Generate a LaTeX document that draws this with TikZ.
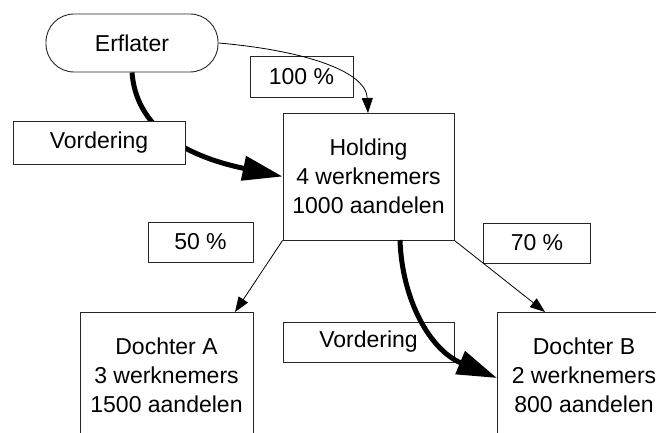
\documentclass[tikz,border=0pt]{standalone}
\usepackage{fontspec}
\setmainfont{Liberation Sans}
\usetikzlibrary{arrows.meta,backgrounds}
\begin{document}
\begin{tikzpicture}[x=1pt,y=-1pt,
  box/.style={draw=black!85,line width=0.9pt,fill=white,inner sep=0pt,font=\fontsize{23}{29}\selectfont,align=center},
  thin/.style={draw=black,line width=0.8pt,-{Triangle[length=15pt,width=11pt]}},
  thick/.style={draw=black,line width=5pt,-{Triangle[length=40pt,width=24pt]}}]
\useasboundingbox (0,0) rectangle (656,433);
\clip (0,0) rectangle (656,433);
\node[box,rounded corners=28pt,minimum width=172pt,minimum height=58pt] (erf) at (132,43) {Erflater};
\node[box,minimum width=103pt,minimum height=41pt] (p100) at (301.5,76.5) {100 \%};
\node[box,minimum width=171pt,minimum height=127pt] (hold) at (368.5,176.5) {Holding\\4 werknemers\\1000 aandelen};
\node[box,minimum width=172pt,minimum height=43pt] (vord1) at (99,142.5) {Vordering};
\node[box,minimum width=105pt,minimum height=40pt] (p50) at (200.5,242) {50 \%};
\node[box,minimum width=107pt,minimum height=40pt] (p70) at (537,243) {70 \%};
\node[box,minimum width=171pt,minimum height=40pt] (vord2) at (368.5,342) {Vordering};
\node[box,minimum width=173pt,minimum height=127pt] (da) at (166.5,375.5) {Dochter A\\3 werknemers\\1500 aandelen};
\node[box,minimum width=174pt,minimum height=127pt] (db) at (584,375.5) {Dochter B\\2 werknemers\\800 aandelen};
\coordinate (erfb) at (erf.south);
\coordinate (holdt) at (368,113);
\coordinate (holdb) at (400,240);
\coordinate (dat) at (235,312);
\coordinate (dbt) at (545,312);
\coordinate (dbw) at (497,378);
\begin{scope}[on background layer]
\draw[thick] (erfb) .. controls (136,125) and (180,155) .. (hold.west);
\end{scope}
\draw[thin] (erf.east) .. controls (300,50) and (366,70) .. (holdt);
\draw[thin] (hold.south west) -- (dat);
\draw[thin] (hold.south east) -- (dbt);
\draw[thick] (holdb) .. controls (402,300) and (430,350) .. (dbw);
\end{tikzpicture}
\end{document}
